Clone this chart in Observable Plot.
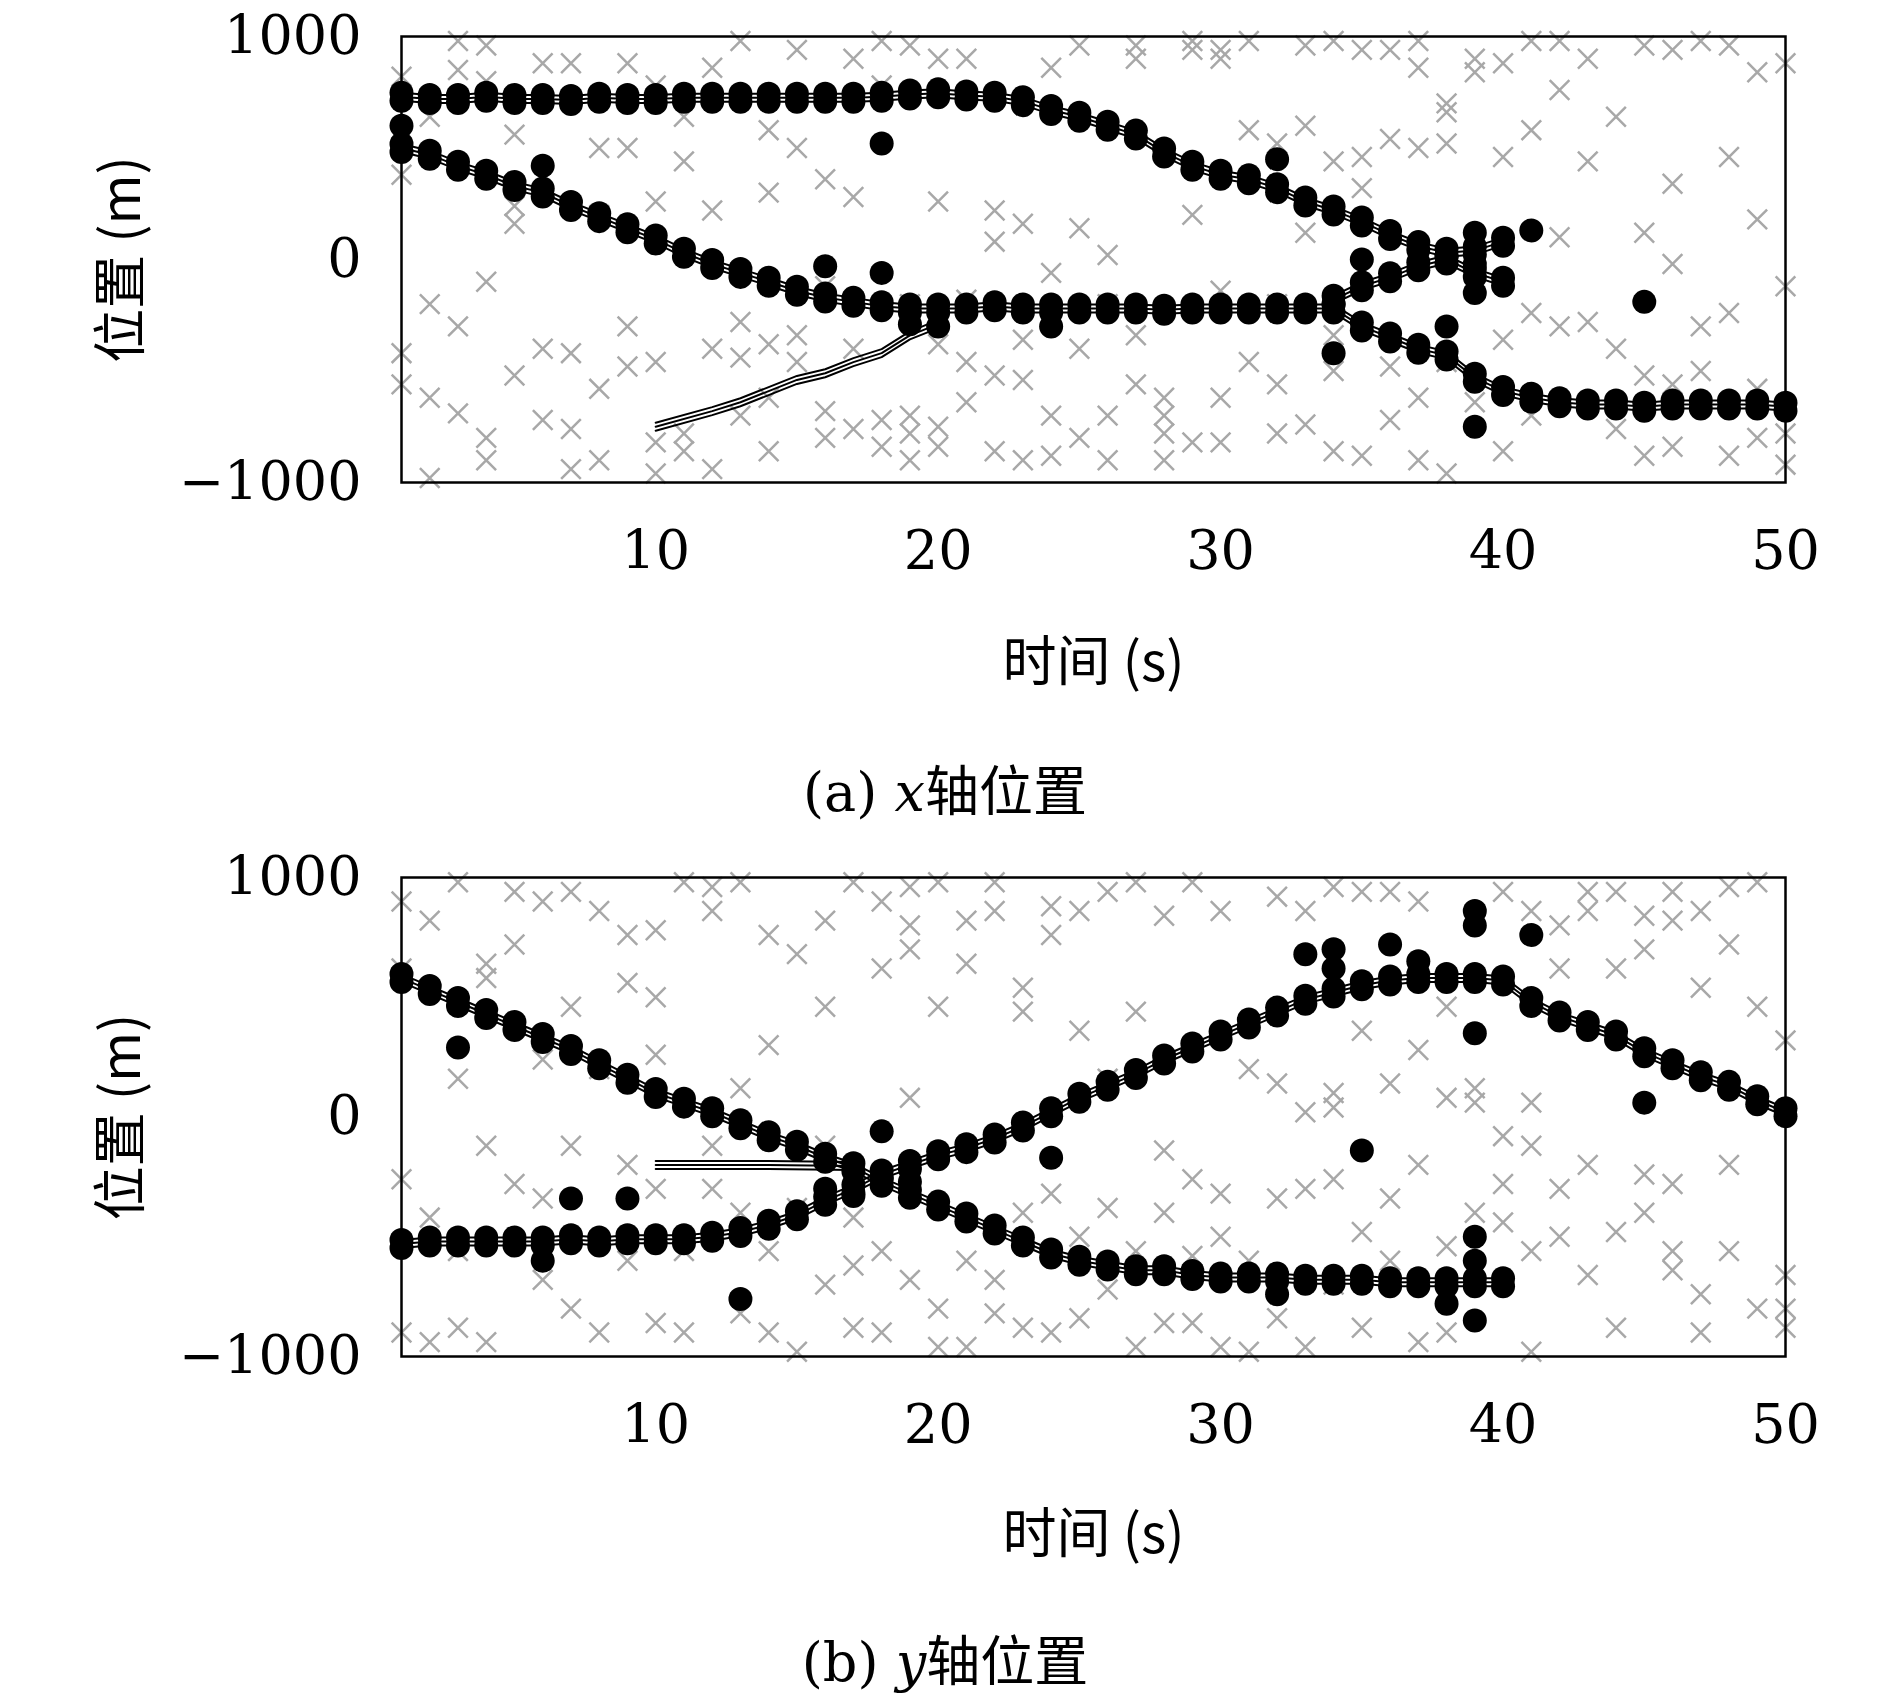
<!DOCTYPE html>
<html><head><meta charset="utf-8">
<script src="https://cdn.jsdelivr.net/npm/d3@7"></script>
<script src="https://cdn.jsdelivr.net/npm/@observablehq/plot@0.6"></script>
<style>
body{margin:0;background:#fff;width:1890px;height:1703px;position:relative;overflow:hidden}
.p{position:absolute;left:0}
.p svg{overflow:visible}
.cap{position:absolute;left:0;width:1890px;text-align:center;font-family:"DejaVu Serif","Liberation Serif",serif;font-size:54px}
.cap span{font-family:"Noto Sans CJK SC"}
</style></head><body>
<div id="a" class="p" style="top:0"></div>
<div class="cap" style="top:748px">(a) <i>x</i><span>轴位置</span></div>
<div id="b" class="p" style="top:841px"></div>
<div class="cap" style="top:1618px">(b) <i>y</i><span>轴位置</span></div>
<script>
const xTicks=[10,20,30,40,50];
const yTicks=[-1000,0,1000];
// panel a tracks [t, x]
const aTrack1=[[1,730],[2,720],[3,720],[4,730],[5,720],[6,720],[7,715],[8,725],[9,720],[10,720],[11,725],[12,725],[13,725],[14,725],[15,725],[16,725],[17,725],[18,730],[19,740],[20,745],[21,735],[22,730],[23,710],[24,670],[25,640],[26,600],[27,560],[28,480],[29,420],[30,380],[31,360],[32,320],[33,260],[34,220],[35,170],[36,110],[37,60],[38,30],[39,40],[40,80]];
const aTrack2=[[1,500],[2,470],[3,420],[4,380],[5,330],[6,300],[7,240],[8,190],[9,140],[10,90],[11,30],[12,-20],[13,-60],[14,-100],[15,-140],[16,-170],[17,-190],[18,-210],[19,-220],[20,-220],[21,-220],[22,-210],[23,-220],[24,-220],[25,-220],[26,-220],[27,-220],[28,-225],[29,-220],[30,-220],[31,-220],[32,-220],[33,-220],[34,-220],[35,-300],[36,-350],[37,-400],[38,-430],[39,-530],[40,-590],[41,-620],[42,-640],[43,-650],[44,-650],[45,-660],[46,-650],[47,-650],[48,-650],[49,-650],[50,-660]];
const aTrack3=[[34,-180],[35,-120],[36,-80],[37,-30],[38,0],[39,-60],[40,-100]];
const aTrack4=[[10,-750],[12,-680],[13,-640],[14,-590],[15,-540],[16,-510],[17,-460],[18,-420],[19,-340],[20,-290]];
const aOut=[[18,520],[32,450],[18,-60],[16,-30],[39,-750],[41,130],[45,-190],[34,-420],[38,-300],[35,0],[39,-150],[24,-300],[20,-300],[19,-290],[39,120],[39,-20],[6,420],[1,600]];
const aClutter=[[-420,-560,380,820],[-980,-620,-200,640],[980,850,-300,-690],[960,800,-900,-100,-800],[560,160,-520,240],[-720,-400,880],[-420,-940,-760,880],[-580,-900,500,200],[-300,880,500,-480],[-820,-960,260,780,-460],[640,440,-860,-780],[220,-940,-400,860],[980,-440,-280,-700],[300,580,-860,-620,-380],[940,500,-340,-460],[-680,-800,-120,360],[280,-400,-760,900],[980,780,-840,-720],[960,-700,-780,-200,-900],[260,-380,-840,-750,900],[900,-180,-460,-640],[220,-860,-520,80],[-540,-900,-360,160],[-880,-700,-60,860],[140,-400,-800,960],[-700,-900,-200,20],[960,-560,-340,900],[-900,-700,-620,-780],[980,940,200,-820],[900,940,-820,-140,-620],[980,580,-460],[-560,-200,520,-780],[960,120,600,-740],[980,-500,-340,-860,440],[940,460,-880,320],[940,540,-480,-720],[980,860,500,-620,-900],[700,520,-460,-960,660],[900,840,-640],[880,460,-360,-860],[980,-240,580,-700],[980,760,100,-300],[900,440,-280],[-760,-400,640],[960,-520,-880,120],[940,340,-20,-560,-840],[980,-300,-500],[960,460,-240,-880],[840,180,-580,-800],[880,-120,-780,-920]];
// panel b tracks [t, y]
const bTrack1=[[1,580],[2,530],[3,480],[4,430],[5,380],[6,330],[7,280],[8,220],[9,160],[10,100],[11,60],[12,20],[13,-30],[14,-80],[15,-120],[16,-170],[17,-210],[18,-270],[19,-320],[20,-370],[21,-420],[22,-470],[23,-520],[24,-570],[25,-600],[26,-620],[27,-640],[28,-640],[29,-660],[30,-670],[31,-670],[32,-670],[33,-680],[34,-680],[35,-680],[36,-690],[37,-690],[38,-690],[39,-690],[40,-690]];
const bTrack2=[[1,-530],[2,-520],[3,-520],[4,-520],[5,-520],[6,-520],[7,-510],[8,-520],[9,-510],[10,-510],[11,-510],[12,-500],[13,-480],[14,-450],[15,-410],[16,-350],[17,-300],[18,-240],[19,-200],[20,-160],[21,-130],[22,-90],[23,-40],[24,20],[25,80],[26,130],[27,180],[28,240],[29,290],[30,340],[31,390],[32,440],[33,490],[34,520],[35,550],[36,570],[37,580],[38,580],[39,580],[40,570],[41,480],[42,420],[43,380],[44,340],[45,270],[46,220],[47,170],[48,130],[49,70],[50,20]];
const bTrack3=[[10,-200],[14,-200],[17,-205]];
const bOut=[[3,290],[7,-340],[9,-340],[13,-760],[6,-600],[18,-60],[24,-170],[33,680],[34,700],[34,620],[36,720],[39,860],[39,800],[39,350],[41,760],[35,-140],[45,60],[32,-740],[39,-500],[39,-600],[39,-850],[38,-780],[37,650],[16,-300],[17,-330],[19,-270]];
const bClutter=[[900,-260,-900,620],[-940,820,-420],[980,-880,-560,160],[640,-940,-120,580],[-280,720,940],[-680,-340,900,240],[940,-800,-120,460],[860,-900,-520,200],[760,-600,-200,560],[500,-860,-300,260,780],[980,-900,-560],[860,-300,-120,960],[980,-820,-400,120],[760,-560,-900,300],[680,-980,-380],[460,-700,-120,820],[980,-620,-880,-420],[900,620,-560,-900],[960,800,-680,80,700],[-960,-800,460,980],[-960,-600,640,820],[980,860,-680,-820],[-880,540,-400,440],[-900,760,-320,880],[860,-840,-500,360],[940,160,-720,-380],[980,-960,-560,440],[-400,-140,-860,840],[980,-860,-260,-580],[-960,-320,-500,860],[-980,-600,200],[-340,920,-840,140],[-300,860,-960,20],[960,-260,40,-700,100],[940,-480,-880,360],[-340,140,-600,940],[-940,-200,280,900],[-900,80,-540,460],[60,-400,120],[-440,-280,940,-80],[-980,-560,860,-120,60],[-500,800,620,-300],[-660,940,-200,860],[-480,-880,940,620],[-240,-400,700,840],[-640,-560,940,-280,820],[-900,-740,860,540],[-560,960,-200,720],[-800,980,460],[-660,-880,320,-800]];

function flat(c){const o=[];c.forEach((ys,i)=>ys.forEach(y=>o.push([i+1,y])));return o;}
function panel(tracks,lineOnly,out,clutter){
  const marks=[
    Plot.dot(flat(clutter),{x:d=>d[0],y:d=>d[1],symbol:"times",r:9,stroke:"#a8a8a8",strokeWidth:2.5}),
  ];
  for(const tr of [...tracks,...lineOnly]){
    for(const dy of [-4,0,4]) marks.push(Plot.line(tr,{x:d=>d[0],y:d=>d[1],dy,stroke:"#000",strokeWidth:2}));
  }
  for(const tr of tracks){
    marks.push(Plot.dot(tr,{x:d=>d[0],y:d=>d[1],r:12,fill:"#000",dy:-4}));
    marks.push(Plot.dot(tr,{x:d=>d[0],y:d=>d[1],r:12,fill:"#000",dy:4}));
  }
  marks.push(Plot.dot(out,{x:d=>d[0],y:d=>d[1],r:12,fill:"#000"}));
  marks.push(Plot.frame({stroke:"#000",strokeWidth:2.5}));
  return marks;
}
function make(el,marks,top,bottom,lo){
  const H=bottom+240;
  const p=Plot.plot({width:1890,height:H,marginTop:top,marginBottom:H-bottom,marginLeft:401,marginRight:105,
    style:{fontFamily:"'DejaVu Serif', 'Liberation Serif', serif",fontSize:"54px",color:"#000",background:"#fff",overflow:"visible"},
    x:{domain:[1,50],ticks:xTicks,tickSize:0,tickPadding:48,label:"时间 (s)",labelArrow:"none",labelAnchor:"center",labelOffset:lo,tickFormat:d=>String(d)},
    y:{domain:[-1000,1000],ticks:yTicks,tickSize:0,tickPadding:40,label:"位置 (m)",labelArrow:"none",labelAnchor:"center",labelOffset:300,tickFormat:d=>d<0?"−"+Math.abs(d):String(d)},
    marks});
  d3.select(p).selectAll("text").filter(function(){return /[时位]/.test(this.textContent);}).style("font-family","'Noto Sans CJK SC', 'DejaVu Serif'");
  document.getElementById(el).appendChild(p);
}
make("a",panel([aTrack1,aTrack2,aTrack3],[aTrack4],aOut,aClutter),36,482,198);
make("b",panel([bTrack1,bTrack2],[bTrack3],bOut,bClutter),36,515,196);
</script></body></html>
